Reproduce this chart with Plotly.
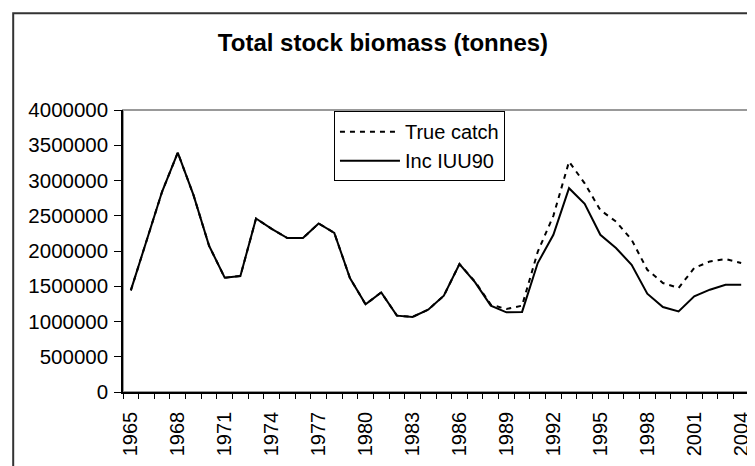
import plotly.graph_objs as go

# Years on the category axis
years = list(range(1965, 2005))

# Total stock biomass (tonnes)
true_catch = [
    1441000, 2135000, 2843000, 3395000, 2796000, 2074000, 1621000, 1645000,
    2461000, 2315000, 2183000, 2183000, 2390000, 2258000, 1617000, 1243000,
    1413000, 1083000, 1065000, 1168000, 1366000, 1815000, 1565000, 1239000,
    1178000, 1225000, 1989000, 2499000, 3268000, 2960000, 2580000, 2418000,
    2159000, 1734000, 1546000, 1475000, 1759000, 1852000, 1886000, 1829000,
]
inc_iuu90 = [
    1441000, 2135000, 2843000, 3395000, 2796000, 2074000, 1621000, 1645000,
    2461000, 2315000, 2183000, 2183000, 2390000, 2258000, 1617000, 1243000,
    1413000, 1083000, 1065000, 1168000, 1366000, 1815000, 1555000, 1225000,
    1130000, 1136000, 1829000, 2230000, 2891000, 2669000, 2230000, 2042000,
    1805000, 1395000, 1206000, 1144000, 1356000, 1451000, 1522000, 1522000,
]

FONT = "Liberation Sans, Arial, sans-serif"

# the page adds an 8px body margin, so the figure is 8px smaller each way
W, H = 747, 458

fig = go.Figure()

fig.add_trace(go.Scatter(x=years, y=true_catch, mode="lines", name="True catch",
                         line=dict(color="black", width=2, dash="5px,5px")))
fig.add_trace(go.Scatter(x=years, y=inc_iuu90, mode="lines", name="Inc IUU90",
                         line=dict(color="black", width=2)))

fig.update_layout(
    width=W, height=H,
    margin=dict(l=115, r=3, t=102, b=74),
    paper_bgcolor="white", plot_bgcolor="white",
    font=dict(family=FONT, size=20, color="black"),
    title=dict(text="<b>Total stock biomass (tonnes)</b>", font=dict(size=24),
               xref="container", x=0.502, xanchor="center",
               yref="container", y=0.925, yanchor="middle"),
    showlegend=True,
    legend=dict(x=0.337, y=0.996, xanchor="left", yanchor="top",
                bordercolor="black", borderwidth=1, bgcolor="white",
                font=dict(size=20), itemwidth=60, tracegroupgap=0),
    xaxis=dict(range=[1964.5, 2004.5], tick0=1965, dtick=3, tickformat="d",
               ticks="", tickangle=-90, showgrid=False, zeroline=False,
               showline=True, linecolor="black", linewidth=1.5,
               ticklabelstandoff=10,
               minor=dict(tick0=1964.5, dtick=1, ticks="outside", ticklen=5,
                          tickcolor="black", showgrid=False)),
    yaxis=dict(range=[0, 4000000], dtick=500000, tickformat="d",
               ticks="outside", ticklen=7, tickcolor="black",
               tickfont=dict(size=20.5),
               showgrid=False, zeroline=False,
               showline=True, linecolor="black", linewidth=1.5,
               ticklabelstandoff=2),
    shapes=[
        # plot area border (grey)
        dict(type="rect", xref="paper", yref="paper", x0=0, x1=1, y0=0, y1=1,
             line=dict(color="#999999", width=2), layer="below"),
        # chart area border
        dict(type="rect", xref="paper", yref="paper", x0=-0.1754, x1=1.2,
             y0=-0.5, y1=1.343, line=dict(color="#333333", width=2)),
    ],
)

fig.write_html("out.html")
